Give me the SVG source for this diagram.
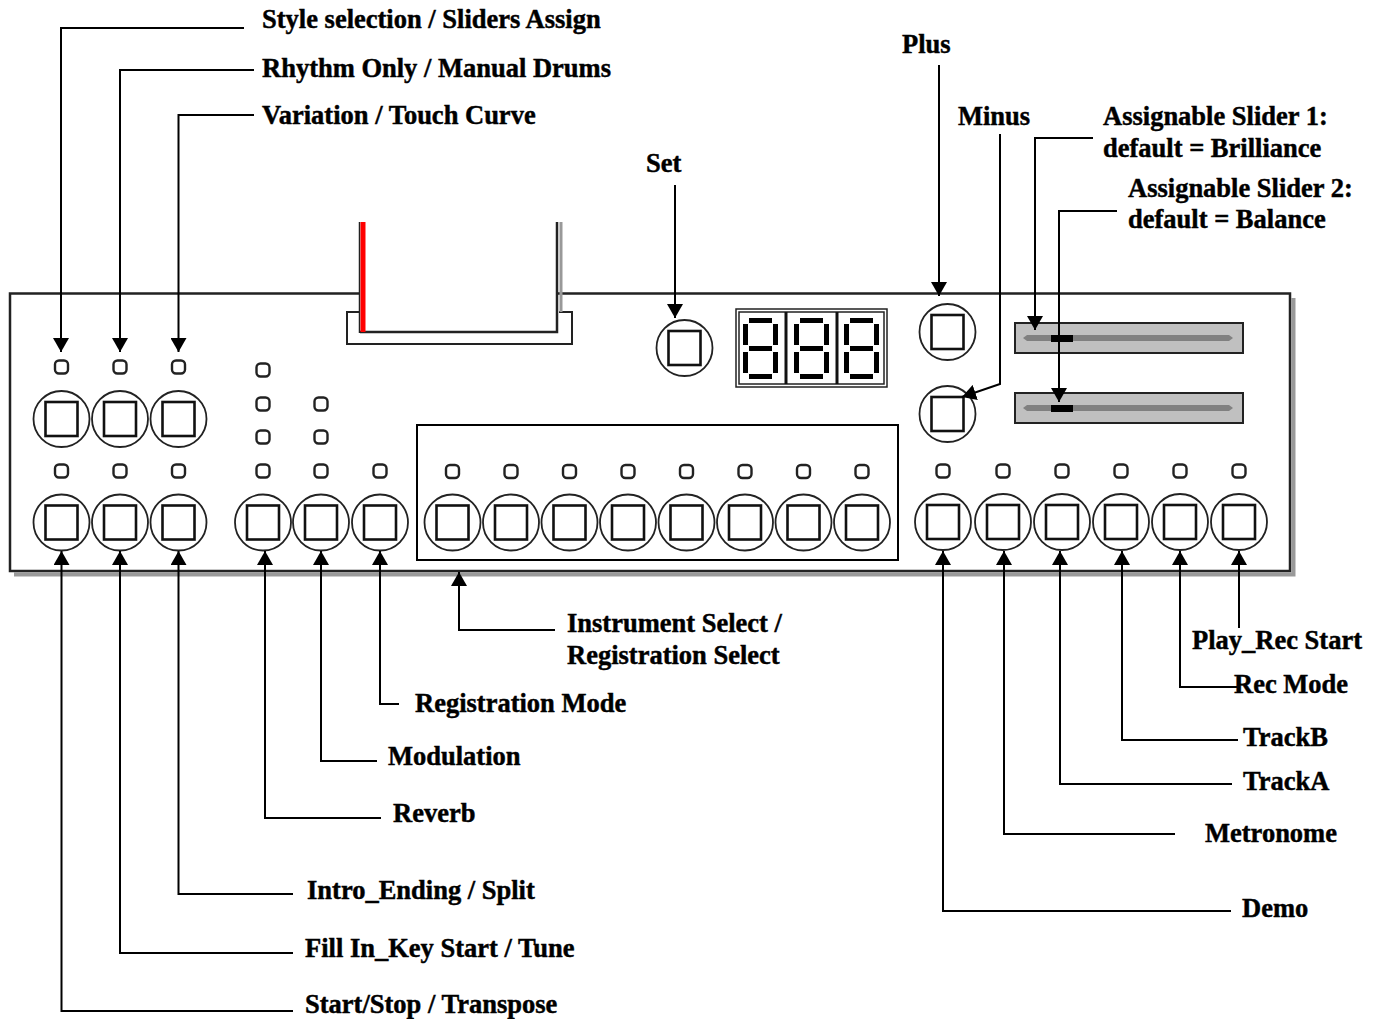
<svg xmlns="http://www.w3.org/2000/svg" xmlns:xlink="http://www.w3.org/1999/xlink" width="1378" height="1019" viewBox="0 0 1378 1019">
<style>
.t{font-family:"Liberation Serif","Times New Roman",serif;font-weight:bold;font-size:26.5px;fill:#000;stroke:#000;stroke-width:0.45}
.c{fill:none;stroke:#000;stroke-width:2}
.ring{fill:#fff;stroke:#222;stroke-width:1.8}
.sq{fill:#fff;stroke:#111;stroke-width:2.6}
.led{fill:#fff;stroke:#222;stroke-width:2.4}
.seg{fill:#000}
.sl{fill:#c0c0c0;stroke:#222;stroke-width:2}
.trk{fill:#808080}
</style>
<defs>
<marker id="ah" viewBox="0 0 14 16" markerWidth="14" markerHeight="16" refX="14" refY="8" orient="auto" markerUnits="userSpaceOnUse"><path d="M0,0 L14,8 L0,16 z" fill="#000"/></marker>
<g id="btn"><circle class="ring" r="28"/><rect class="sq" x="-16" y="-17" width="32" height="34"/></g>
<rect id="led" class="led" x="-6.5" y="-6.5" width="13" height="13" rx="4"/>
<g id="digit">
<rect class="seg" x="6" y="0" width="23" height="5"/>
<rect class="seg" x="0" y="6" width="5" height="21"/>
<rect class="seg" x="30" y="6" width="5" height="21"/>
<rect class="seg" x="6" y="28" width="23" height="5"/>
<rect class="seg" x="0" y="34" width="5" height="21"/>
<rect class="seg" x="30" y="34" width="5" height="21"/>
<rect class="seg" x="6" y="56" width="23" height="5"/>
</g>
</defs>
<rect width="1378" height="1019" fill="#fff"/>

<g id="panel">
<path d="M14,574.5 H1293.5 V298" fill="none" stroke="#999" stroke-width="4"/>
<path d="M359,293.5 H10 V571 H1290 V293.5 H557" fill="none" stroke="#222" stroke-width="2.5"/>
</g>

<g id="slot">
<path d="M359,312 H347 V344 H572 V312 H559" fill="none" stroke="#222" stroke-width="2"/>
<line x1="561" y1="222" x2="561" y2="312" stroke="#999" stroke-width="3"/>
<path d="M557,222 V332 H360" fill="none" stroke="#222" stroke-width="2.5"/>
<line x1="359.5" y1="222" x2="359.5" y2="333" stroke="#222" stroke-width="1.5"/>
<line x1="363" y1="222" x2="363" y2="332" stroke="#f00" stroke-width="5"/>
</g>

<g id="instrument-box"><rect x="417" y="425" width="481" height="135" fill="none" stroke="#000" stroke-width="2"/></g>

<g id="btn-style"><use href="#led" x="61.5" y="367"/><use href="#btn" x="61.5" y="419"/></g>
<g id="btn-rhythm"><use href="#led" x="120" y="367"/><use href="#btn" x="120" y="419"/></g>
<g id="btn-variation"><use href="#led" x="178.5" y="367"/><use href="#btn" x="178.5" y="419"/></g>
<g id="btn-startstop"><use href="#led" x="61.5" y="471"/><use href="#btn" x="61.5" y="522.5"/></g>
<g id="btn-fillin"><use href="#led" x="120" y="471"/><use href="#btn" x="120" y="522.5"/></g>
<g id="btn-intro"><use href="#led" x="178.5" y="471"/><use href="#btn" x="178.5" y="522.5"/></g>
<g id="btn-reverb"><use href="#led" x="263" y="370"/><use href="#led" x="263" y="404"/><use href="#led" x="263" y="437"/><use href="#led" x="263" y="471"/><use href="#btn" x="263" y="522.5"/></g>
<g id="btn-modulation"><use href="#led" x="321" y="404"/><use href="#led" x="321" y="437"/><use href="#led" x="321" y="471"/><use href="#btn" x="321" y="522.5"/></g>
<g id="btn-regmode"><use href="#led" x="380" y="471"/><use href="#btn" x="380" y="522.5"/></g>

<g id="btn-instr1"><use href="#led" x="452.5" y="471.5"/><use href="#btn" x="452.5" y="522.5"/></g>
<g id="btn-instr2"><use href="#led" x="511" y="471.5"/><use href="#btn" x="511" y="522.5"/></g>
<g id="btn-instr3"><use href="#led" x="569.5" y="471.5"/><use href="#btn" x="569.5" y="522.5"/></g>
<g id="btn-instr4"><use href="#led" x="628" y="471.5"/><use href="#btn" x="628" y="522.5"/></g>
<g id="btn-instr5"><use href="#led" x="686.5" y="471.5"/><use href="#btn" x="686.5" y="522.5"/></g>
<g id="btn-instr6"><use href="#led" x="745" y="471.5"/><use href="#btn" x="745" y="522.5"/></g>
<g id="btn-instr7"><use href="#led" x="803.5" y="471.5"/><use href="#btn" x="803.5" y="522.5"/></g>
<g id="btn-instr8"><use href="#led" x="862" y="471.5"/><use href="#btn" x="862" y="522.5"/></g>

<g id="btn-demo"><use href="#led" x="943" y="471"/><use href="#btn" x="943" y="522"/></g>
<g id="btn-metronome"><use href="#led" x="1003" y="471"/><use href="#btn" x="1003" y="522"/></g>
<g id="btn-tracka"><use href="#led" x="1062" y="471"/><use href="#btn" x="1062" y="522"/></g>
<g id="btn-trackb"><use href="#led" x="1121" y="471"/><use href="#btn" x="1121" y="522"/></g>
<g id="btn-recmode"><use href="#led" x="1180" y="471"/><use href="#btn" x="1180" y="522"/></g>
<g id="btn-playrec"><use href="#led" x="1239" y="471"/><use href="#btn" x="1239" y="522"/></g>

<g id="btn-set"><use href="#btn" x="684.5" y="348"/></g>
<g id="btn-plus"><use href="#btn" x="947.5" y="332"/></g>
<g id="btn-minus"><use href="#btn" x="947.5" y="414"/></g>

<g id="display">
<rect x="736" y="309" width="151" height="78" fill="#fff" stroke="#222" stroke-width="1.5"/>
<rect x="739" y="312" width="145" height="72" fill="none" stroke="#222" stroke-width="1.5"/>
<line x1="786" y1="312" x2="786" y2="384" stroke="#111" stroke-width="3"/>
<line x1="837" y1="312" x2="837" y2="384" stroke="#111" stroke-width="3"/>
<use href="#digit" x="743" y="318"/>
<use href="#digit" x="794" y="318"/>
<use href="#digit" x="844" y="318"/>
</g>

<g id="slider1">
<rect class="sl" x="1015" y="323" width="228" height="30"/>
<path class="trk" d="M1023,338 L1027,335 H1229 L1233,338 L1229,341 H1027 Z"/>
<rect x="1051" y="335" width="22" height="7" fill="#000"/>
</g>
<g id="slider2">
<rect class="sl" x="1015" y="393" width="228" height="30"/>
<path class="trk" d="M1023,408 L1027,405 H1229 L1233,408 L1229,411 H1027 Z"/>
<rect x="1051" y="405" width="22" height="7" fill="#000"/>
</g>

<g id="connectors" class="c" marker-end="url(#ah)">
<path d="M244,28 H61 V352"/>
<path d="M254,70 H120 V352"/>
<path d="M254,115 H178.5 V352"/>
<path d="M675,185 V318"/>
<path d="M939,65 V296"/>
<path d="M1000,134 V384 L962,397"/>
<path d="M1093,138 H1035 V330"/>
<path d="M1117,211 H1059 V402"/>
<path d="M555,630 H459 V572"/>
<path d="M399,704 H380 V551"/>
<path d="M377,761 H321 V551"/>
<path d="M381,818 H265 V551"/>
<path d="M293,894 H178.5 V551"/>
<path d="M293,953 H120 V551"/>
<path d="M293,1011 H61.5 V551"/>
<path d="M1239,628 V551"/>
<path d="M1237,687 H1180 V551"/>
<path d="M1238,740 H1122 V551"/>
<path d="M1232,784 H1060 V551"/>
<path d="M1175,834 H1004 V551"/>
<path d="M1231,911 H943 V551"/>
</g>

<g id="labels">
<text class="t" x="262" y="28">Style selection / Sliders Assign</text>
<text class="t" x="262" y="77">Rhythm Only / Manual Drums</text>
<text class="t" x="262" y="124">Variation / Touch Curve</text>
<text class="t" x="646" y="172">Set</text>
<text class="t" x="902" y="53">Plus</text>
<text class="t" x="958" y="125">Minus</text>
<text class="t" x="1103" y="125">Assignable Slider 1:</text>
<text class="t" x="1103" y="157">default = Brilliance</text>
<text class="t" x="1128" y="197">Assignable Slider 2:</text>
<text class="t" x="1128" y="228">default = Balance</text>
<text class="t" x="567" y="632">Instrument Select /</text>
<text class="t" x="567" y="664">Registration Select</text>
<text class="t" x="415" y="712">Registration Mode</text>
<text class="t" x="388" y="765">Modulation</text>
<text class="t" x="393" y="822">Reverb</text>
<text class="t" x="307" y="899">Intro_Ending / Split</text>
<text class="t" x="305" y="957">Fill In_Key Start / Tune</text>
<text class="t" x="305" y="1013">Start/Stop / Transpose</text>
<text class="t" x="1192" y="649">Play_Rec Start</text>
<text class="t" x="1234" y="693">Rec Mode</text>
<text class="t" x="1243" y="746">TrackB</text>
<text class="t" x="1243" y="790">TrackA</text>
<text class="t" x="1205" y="842">Metronome</text>
<text class="t" x="1242" y="917">Demo</text>
</g>
</svg>
